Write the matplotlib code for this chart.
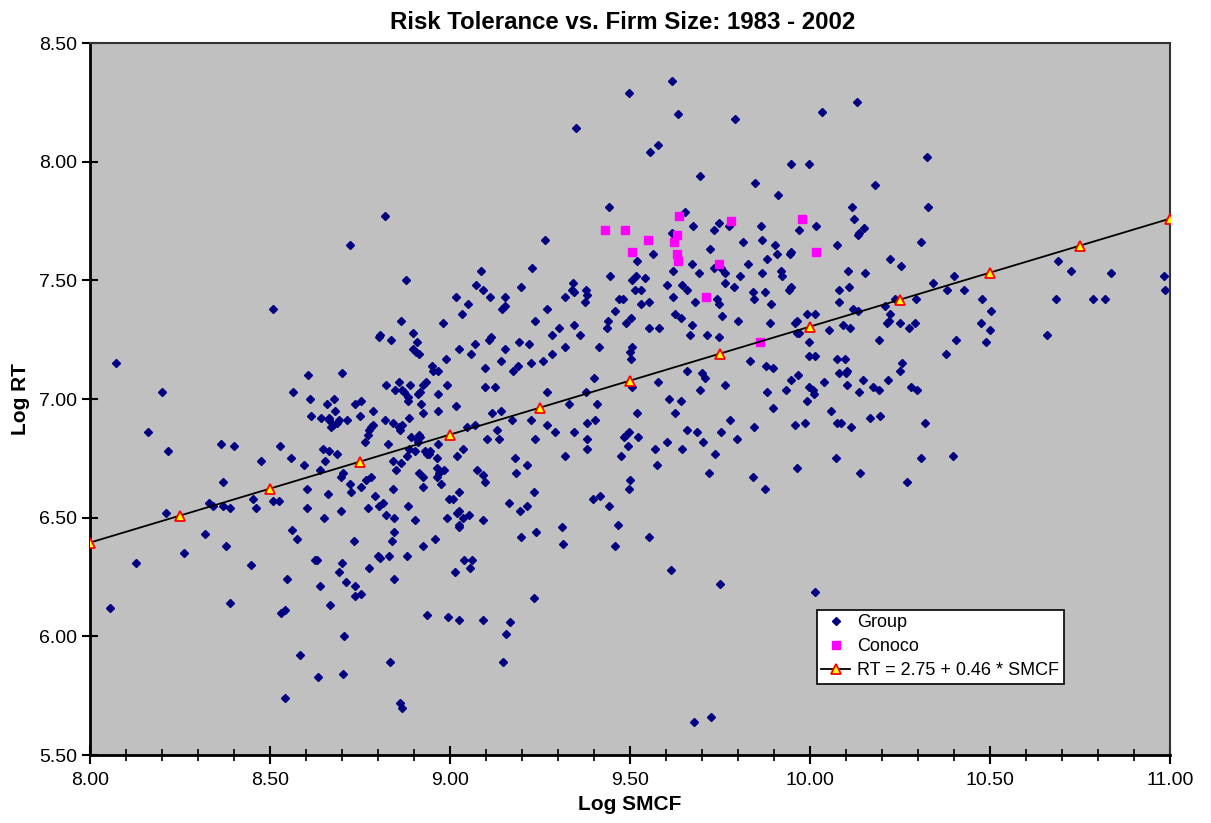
import numpy as np
import matplotlib
matplotlib.use('Agg')
import matplotlib.pyplot as plt
from matplotlib.ticker import MultipleLocator, FormatStrFormatter

plt.rcParams['font.family'] = ['Liberation Sans', 'DejaVu Sans']

group_800_900_upper = [
    (8.072, 7.15), (8.199, 7.03), (8.162, 6.86), (8.217, 6.78), (8.507, 7.38), (8.606, 7.10),
    (8.565, 7.03), (8.700, 7.11), (8.611, 7.00), (8.613, 6.93), (8.642, 6.92), (8.659, 6.98),
    (8.678, 7.00), (8.681, 6.95), (8.665, 6.92), (8.663, 6.91), (8.669, 6.88), (8.674, 6.89),
    (8.685, 6.90), (8.693, 6.91), (8.713, 6.91), (8.737, 6.98), (8.752, 6.99), (8.750, 6.93),
    (8.785, 6.95), (8.774, 6.87), (8.780, 6.88), (8.785, 6.89), (8.772, 6.85), (8.763, 6.82),
    (8.819, 6.91), (8.806, 7.27), (8.802, 7.26), (8.837, 7.25), (8.863, 7.33), (8.898, 7.28),
    (8.909, 7.24), (8.898, 7.21), (8.906, 7.20), (8.913, 7.19), (8.877, 7.50), (8.981, 7.32),
    (8.989, 7.17), (8.950, 7.14), (8.952, 7.12), (8.967, 7.12), (8.993, 7.06), (8.822, 7.06),
    (8.859, 7.07), (8.846, 7.04), (8.867, 7.04), (8.872, 7.03), (8.889, 7.06), (8.884, 7.01),
    (8.883, 6.99), (8.917, 7.03), (8.911, 7.02), (8.933, 7.07), (8.924, 7.06), (8.919, 6.98),
    (8.924, 6.94), (8.967, 7.02), (8.967, 6.95), (8.843, 6.90), (8.867, 6.89), (8.861, 6.87),
    (8.857, 6.88), (8.887, 6.92), (8.829, 6.81), (8.893, 6.84), (8.915, 6.85), (8.917, 6.84),
    (8.912, 6.82), (8.907, 6.83), (8.968, 6.81), (8.887, 6.79), (8.904, 6.78), (8.930, 6.78),
    (8.935, 6.77), (8.944, 6.78), (8.941, 6.77), (8.880, 6.76), (8.863, 6.73), (8.841, 6.74),
    (8.850, 6.70), (8.963, 6.75), (8.963, 6.71), (8.969, 6.69), (8.983, 6.70), (8.963, 6.67),
    (8.976, 6.64), (8.913, 6.69), (8.926, 6.67), (8.924, 6.63), (8.998, 6.58), (8.365, 6.81),
    (8.401, 6.80), (8.528, 6.80), (8.476, 6.74), (8.559, 6.75), (8.594, 6.72), (8.646, 6.79),
    (8.663, 6.78), (8.653, 6.74), (8.687, 6.77), (8.639, 6.70), (8.704, 6.69), (8.696, 6.67),
    (8.722, 6.64), (8.752, 6.63), (8.767, 6.66), (8.780, 6.67), (8.726, 6.61), (8.791, 6.59),
    (8.841, 6.62), (8.604, 6.62), (8.660, 6.60), (8.369, 6.65), (8.452, 6.58), (8.461, 6.54),
    (8.507, 6.57), (8.524, 6.57), (8.331, 6.56), (8.341, 6.55), (8.369, 6.55), (8.389, 6.54),
    (8.211, 6.52), (8.604, 6.54), (8.696, 6.53), (8.772, 6.54), (8.804, 6.55), (8.813, 6.56),
    (8.884, 6.55), (8.650, 6.50), (8.822, 6.51), (8.844, 6.50), (8.904, 6.49), (8.991, 6.50),
    (8.820, 7.77), (8.723, 7.65),
]

group_800_900_lower = [
    (8.129, 6.31), (8.055, 6.12), (8.262, 6.35), (8.320, 6.43), (8.379, 6.38), (8.389, 6.14),
    (8.446, 6.30), (8.562, 6.45), (8.575, 6.41), (8.546, 6.24), (8.530, 6.10), (8.543, 6.11),
    (8.584, 5.92), (8.543, 5.74), (8.624, 6.32), (8.630, 6.32), (8.639, 6.21), (8.666, 6.13),
    (8.633, 5.83), (8.692, 6.27), (8.699, 6.31), (8.711, 6.23), (8.732, 6.40), (8.737, 6.21),
    (8.737, 6.17), (8.754, 6.18), (8.706, 6.00), (8.704, 5.84), (8.776, 6.29), (8.800, 6.34),
    (8.805, 6.33), (8.830, 6.34), (8.839, 6.40), (8.844, 6.44), (8.844, 6.24), (8.880, 6.34),
    (8.924, 6.38), (8.957, 6.41), (8.937, 6.09), (8.994, 6.08), (8.834, 5.89), (8.860, 5.72),
    (8.866, 5.70),
]

group_900_1000_top = [
    (9.617, 8.34), (9.496, 8.29), (9.634, 8.20), (9.792, 8.18), (9.350, 8.14), (9.577, 8.07),
    (9.556, 8.04), (9.948, 7.99), (9.996, 7.99), (9.695, 7.94), (9.847, 7.91), (9.912, 7.86),
    (9.441, 7.81), (9.653, 7.79), (9.265, 7.67), (9.676, 7.73), (9.747, 7.74), (9.776, 7.73),
    (9.733, 7.71), (9.864, 7.73), (9.969, 7.71), (9.617, 7.70), (9.815, 7.66), (9.867, 7.67),
    (9.904, 7.65), (9.722, 7.63), (9.909, 7.61), (9.946, 7.62), (9.944, 7.61), (9.881, 7.59),
    (9.828, 7.57), (9.672, 7.57), (9.565, 7.61), (9.520, 7.58), (9.087, 7.54), (9.229, 7.55),
    (9.620, 7.54), (9.693, 7.53), (9.733, 7.55), (9.752, 7.55), (9.765, 7.53), (9.806, 7.52),
    (9.867, 7.53), (9.920, 7.54), (9.922, 7.52), (9.444, 7.52), (9.517, 7.52), (9.506, 7.50),
    (9.541, 7.51), (9.341, 7.49), (9.763, 7.49),
]

group_900_1000_mid = [
    (9.072, 7.48), (9.091, 7.46), (9.017, 7.43), (9.050, 7.40), (9.033, 7.36), (9.111, 7.43),
    (9.154, 7.43), (9.152, 7.39), (9.144, 7.38), (9.197, 7.47), (9.235, 7.33), (9.270, 7.38),
    (9.320, 7.43), (9.339, 7.46), (9.344, 7.45), (9.378, 7.46), (9.381, 7.44), (9.374, 7.41),
    (9.457, 7.37), (9.470, 7.42), (9.481, 7.42), (9.513, 7.46), (9.530, 7.46), (9.531, 7.40),
    (9.552, 7.41), (9.439, 7.33), (9.435, 7.30), (9.489, 7.32), (9.504, 7.34), (9.554, 7.30),
    (9.580, 7.30), (9.604, 7.48), (9.619, 7.43), (9.644, 7.48), (9.657, 7.46), (9.626, 7.36),
    (9.641, 7.34), (9.680, 7.41), (9.672, 7.31), (9.667, 7.27), (9.713, 7.27), (9.748, 7.26),
    (9.743, 7.42), (9.748, 7.40), (9.756, 7.35), (9.789, 7.47), (9.800, 7.33), (9.843, 7.45),
    (9.844, 7.42), (9.874, 7.45), (9.891, 7.40), (9.889, 7.32), (9.943, 7.46), (9.948, 7.47),
    (9.963, 7.33), (9.959, 7.32), (9.963, 7.28), (9.970, 7.28), (9.993, 7.36), (9.996, 7.24),
    (9.109, 7.25), (9.115, 7.26), (9.070, 7.23), (9.026, 7.21), (9.059, 7.19), (9.152, 7.21),
    (9.191, 7.24), (9.219, 7.23), (9.283, 7.27), (9.302, 7.30), (9.344, 7.31), (9.361, 7.27),
    (9.320, 7.22), (9.415, 7.22), (9.506, 7.22), (9.500, 7.20), (9.502, 7.17), (9.283, 7.19),
    (9.259, 7.16), (9.226, 7.15), (9.189, 7.14), (9.176, 7.12), (9.143, 7.16), (9.098, 7.13),
    (9.096, 7.05), (9.124, 7.05), (9.270, 7.03), (9.400, 7.09), (9.378, 7.03), (9.331, 6.98),
    (9.407, 6.98), (9.578, 7.07), (9.506, 7.05), (9.607, 7.00), (9.641, 6.99), (9.659, 7.12),
    (9.700, 7.11), (9.709, 7.09), (9.694, 7.04), (9.765, 7.06), (9.833, 7.16), (9.878, 7.14),
    (9.898, 7.13), (9.967, 7.10), (9.948, 7.08), (9.933, 7.04), (9.996, 7.05), (9.996, 7.18),
    (9.880, 7.03), (9.898, 6.96), (9.991, 6.99), (9.017, 6.97), (9.117, 6.94), (9.143, 6.95),
    (9.172, 6.91), (9.226, 6.91), (9.269, 6.89), (9.046, 6.88), (9.070, 6.89), (9.130, 6.87),
    (9.104, 6.83), (9.137, 6.83), (9.235, 6.83), (9.293, 6.86), (9.344, 6.86), (9.380, 6.90),
    (9.402, 6.91), (9.381, 6.83), (9.380, 6.79), (9.520, 6.94), (9.624, 6.94), (9.659, 6.87),
    (9.685, 6.86), (9.702, 6.82), (9.754, 6.86), (9.778, 6.91), (9.798, 6.83), (9.844, 6.88),
    (9.957, 6.89), (9.987, 6.90), (9.483, 6.84), (9.489, 6.85), (9.498, 6.86), (9.494, 6.80),
    (9.522, 6.84), (9.604, 6.82), (9.569, 6.79), (9.644, 6.79), (9.476, 6.76), (9.576, 6.72),
    (9.735, 6.77), (9.720, 6.69), (9.843, 6.67), (9.874, 6.62), (9.965, 6.71), (9.035, 6.79),
    (9.019, 6.76), (9.181, 6.75), (9.215, 6.72), (9.076, 6.70), (9.093, 6.68), (9.098, 6.65),
    (9.183, 6.69), (9.319, 6.76), (9.233, 6.61), (9.024, 6.61), (9.007, 6.58), (9.163, 6.56),
    (9.194, 6.53), (9.213, 6.55), (9.396, 6.58), (9.417, 6.59), (9.443, 6.55), (9.500, 6.66),
    (9.496, 6.62), (9.019, 6.52), (9.026, 6.53), (9.052, 6.51), (9.093, 6.49), (9.037, 6.50),
]

group_900_1000_low = [
    (9.026, 6.47), (9.024, 6.46), (9.198, 6.42), (9.239, 6.44), (9.311, 6.46), (9.313, 6.39),
    (9.467, 6.47), (9.457, 6.38), (9.552, 6.42), (9.039, 6.32), (9.061, 6.32), (9.056, 6.29),
    (9.013, 6.27), (9.613, 6.28), (9.750, 6.22), (9.233, 6.16), (9.024, 6.07), (9.093, 6.07),
    (9.167, 6.06), (9.156, 6.01), (9.148, 5.89), (9.678, 5.64), (9.724, 5.66),
]

group_1000_1100_top = [
    (10.131, 8.25), (10.033, 8.21), (10.324, 8.02), (10.180, 7.90), (10.116, 7.81), (10.329, 7.81),
    (10.122, 7.76), (10.017, 7.73), (10.150, 7.72), (10.137, 7.70), (10.133, 7.69), (10.076, 7.65),
    (10.309, 7.66), (10.222, 7.59), (10.254, 7.56), (10.106, 7.54), (10.152, 7.53), (10.343, 7.49),
    (10.400, 7.52), (10.690, 7.58), (10.726, 7.54), (10.835, 7.53), (10.983, 7.52),
]

group_1000_1100_low = [
    (10.080, 7.46), (10.109, 7.47), (10.081, 7.41), (10.015, 7.36), (10.119, 7.38), (10.133, 7.37),
    (10.207, 7.39), (10.222, 7.36), (10.215, 7.32), (10.220, 7.33), (10.237, 7.42), (10.250, 7.32),
    (10.276, 7.30), (10.293, 7.32), (10.294, 7.42), (10.381, 7.46), (10.428, 7.46), (10.478, 7.42),
    (10.504, 7.37), (10.476, 7.32), (10.500, 7.29), (10.488, 7.24), (10.405, 7.25), (10.377, 7.19),
    (10.054, 7.29), (10.093, 7.31), (10.112, 7.30), (10.193, 7.25), (10.013, 7.18), (10.076, 7.17),
    (10.098, 7.17), (10.256, 7.15), (10.250, 7.12), (10.104, 7.12), (10.100, 7.11), (10.080, 7.11),
    (10.039, 7.07), (10.102, 7.06), (10.148, 7.08), (10.217, 7.08), (10.174, 7.05), (10.193, 7.04),
    (10.135, 7.03), (10.280, 7.05), (10.296, 7.04), (10.007, 7.04), (10.011, 7.02), (10.057, 6.95),
    (10.074, 6.90), (10.085, 6.90), (10.115, 6.88), (10.167, 6.92), (10.195, 6.93), (10.320, 6.90),
    (10.072, 6.75), (10.140, 6.69), (10.270, 6.65), (10.307, 6.75), (10.398, 6.76), (10.682, 7.42),
    (10.785, 7.42), (10.819, 7.42), (10.659, 7.27), (10.987, 7.46), (10.015, 6.185),
]

conoco = [
    (9.430, 7.71), (9.486, 7.71), (9.550, 7.67), (9.505, 7.62), (9.636, 7.77), (9.631, 7.69),
    (9.622, 7.66), (9.630, 7.61), (9.633, 7.58), (9.748, 7.57), (9.781, 7.75), (9.978, 7.76),
    (10.017, 7.62), (9.711, 7.43), (9.861, 7.24),
]

# fitted line RT = a + b * SMCF, with markers every 0.25
fit_a = 2.755
fit_b = 0.455
fit_smcf = [8.00, 8.25, 8.50, 8.75, 9.00, 9.25, 9.50, 9.75, 10.00, 10.25, 10.50, 10.75, 11.00]

group = np.array(group_800_900_upper + group_800_900_lower + group_900_1000_top
                 + group_900_1000_mid + group_900_1000_low + group_1000_1100_top
                 + group_1000_1100_low)
conoco = np.array(conoco)
fit_smcf = np.array(fit_smcf)
fit_rt = fit_a + fit_b * fit_smcf

fig = plt.figure(figsize=(12.11, 8.23), dpi=100)
ax = fig.add_axes([90 / 1211, 68 / 823, 1080 / 1211, 712 / 823])
ax.set_facecolor('#C0C0C0')

ax.plot(group[:, 0], group[:, 1], ls='none', marker='D', ms=4.2, color='#000080',
        label='Group', zorder=2)
ax.plot(conoco[:, 0], conoco[:, 1], ls='none', marker='s', ms=5.8, color='#FF00FF',
        label='Conoco', zorder=3)
ax.plot(fit_smcf, fit_rt, color='black', lw=1.3, marker='^', ms=6.5, mfc='#FFFF00',
        mec='#FF0000', mew=1.3, label='RT = 2.75 + 0.46 * SMCF', zorder=4)

ax.set_xlim(8, 11)
ax.set_ylim(5.5, 8.5)
ax.xaxis.set_major_locator(MultipleLocator(0.5))
ax.xaxis.set_minor_locator(MultipleLocator(0.1))
ax.yaxis.set_major_locator(MultipleLocator(0.5))
ax.xaxis.set_major_formatter(FormatStrFormatter('%.2f'))
ax.yaxis.set_major_formatter(FormatStrFormatter('%.2f'))
ax.tick_params(axis='x', which='major', direction='inout', length=13, width=1.5,
               labelsize=14, pad=6)
ax.tick_params(axis='x', which='minor', direction='inout', length=9, width=1.2)
ax.tick_params(axis='y', which='major', direction='inout', length=12, width=1.5,
               labelsize=14, pad=3)

for side in ['left', 'bottom']:
    ax.spines[side].set_linewidth(2)
    ax.spines[side].set_color('black')
for side in ['top', 'right']:
    ax.spines[side].set_linewidth(1.5)
    ax.spines[side].set_color('#333333')

ax.set_title('Risk Tolerance vs. Firm Size: 1983 - 2002', fontsize=17.3, fontweight='bold',
             pad=10, x=0.493)
ax.set_xlabel('Log SMCF', fontsize=15, fontweight='bold', labelpad=4)
ax.set_ylabel('Log RT', fontsize=15, fontweight='bold', labelpad=7)

leg = ax.legend(loc='upper left', bbox_to_anchor=(0.673, 0.204), fontsize=13,
                frameon=True, fancybox=False, framealpha=1, edgecolor='black',
                borderpad=0.25, labelspacing=0.38, handlelength=1.6, handletextpad=0.4,
                borderaxespad=0)
leg.get_frame().set_linewidth(1.2)

fig.savefig('out.png', dpi=100)
